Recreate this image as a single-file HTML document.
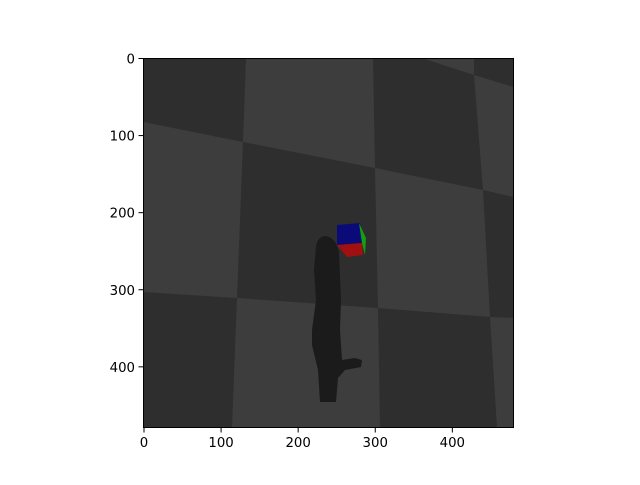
<!DOCTYPE html>
<html><head><meta charset="utf-8"><style>
body{margin:0;background:#fff;width:640px;height:480px;overflow:hidden}
svg text{font-family:"DejaVu Sans","Liberation Sans",sans-serif;font-size:13.3px;fill:#000}
</style></head><body>
<svg width="640" height="480">
<g>
<rect x="143.5" y="58.5" width="370" height="369" fill="#3d3d3d"/>
<g fill="#2e2e2e">
<polygon points="143.5,58.5 246,58.5 243,142 143.5,122"/>
<polygon points="373,58.5 423,58.5 474,75 483,190 375,168"/>
<polygon points="474,58.5 513.5,58.5 513.5,87 474,75"/>
<polygon points="243,142 375,168 378,308 237,298"/>
<polygon points="483,190 513.5,197 513.5,318 490,317"/>
<polygon points="143.5,292 237,298 232,427.5 143.5,427.5"/>
<polygon points="378,308 490,317 497,427.5 380,427.5"/>
</g>
<g fill="#1b1b1b">
<path d="M316,246 Q318,236 326,236 Q336,238 339,252 L341,300 L340,330 L342,360 L355,358 L362,360 L361,367 L345,370 L338,378 L336,402 L320,402 L318,370 L312,345 L312,330 L316,300 L314,270 Z"/>
</g>
<g>
<polygon points="337,225 360,223 362,243 337,245" fill="#0a0a78"/>
<polygon points="337,245 362,243 363,255 347,257" fill="#a01010"/>
<polygon points="359,223 366,238 365,255 362,243" fill="#10a010"/>
</g>
</g>
<rect x="143.5" y="58.5" width="370" height="369" fill="none" stroke="#000" stroke-width="1"/>
<g id="xt"></g>
<g id="yt"></g>
</svg>
<script>
const xTicks=[0,100,200,300,400];
const yTicks=[0,100,200,300,400];
const s=370/480, x0=144, y0=58.5;
const ns="http://www.w3.org/2000/svg";
const xt=document.getElementById('xt'), yt=document.getElementById('yt');
xTicks.forEach(v=>{const x=x0+v*s;
 const l=document.createElementNS(ns,'line');l.setAttribute('x1',x);l.setAttribute('x2',x);l.setAttribute('y1',427.5);l.setAttribute('y2',432.5);l.setAttribute('stroke','#000');
 
 xt.appendChild(l);
 const t=document.createElementNS(ns,'text');t.setAttribute('x',x);t.setAttribute('y',447);t.setAttribute('text-anchor','middle');t.textContent=v;
 
 xt.appendChild(t);});
yTicks.forEach(v=>{const y=y0+v*s;
 const l=document.createElementNS(ns,'line');l.setAttribute('x1',138.5);l.setAttribute('x2',143.5);l.setAttribute('y1',y);l.setAttribute('y2',y);l.setAttribute('stroke','#000');
 
 yt.appendChild(l);
 const t=document.createElementNS(ns,'text');t.setAttribute('x',135);t.setAttribute('y',y+5);t.setAttribute('text-anchor','end');t.textContent=v;
 
 yt.appendChild(t);});
</script>
</body></html>
